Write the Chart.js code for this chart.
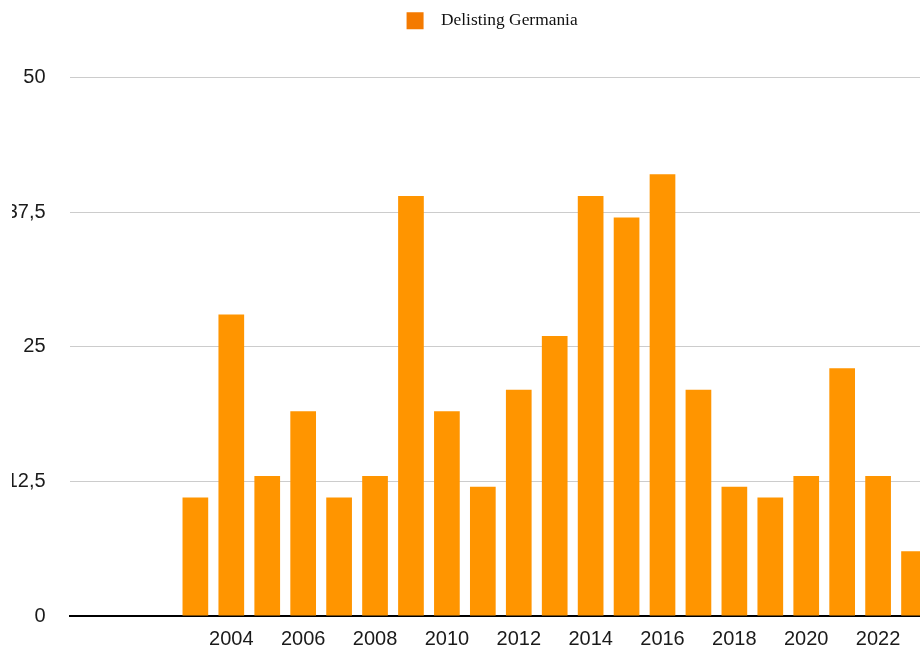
<!DOCTYPE html>
<html>
<head>
	<meta charset="utf-8">
	<title>Delisting Germania</title>
	<script src="https://cdn.jsdelivr.net/npm/chart.js@4.4.1/dist/chart.umd.min.js"></script>
	<style>
		html, body {
			margin: 0;
			padding: 0;
			overflow: hidden;
			background: #fff;
		}
		#myChart {
			display: block;
		}
	</style>
</head>
<body>
<canvas id="myChart" width="932" height="653"></canvas>
<script>
	// anni (2000-2002 vuoti nel grafico originale)
	const anni = ["2000", "2001", "2002", "2003", "2004", "2005", "2006", "2007", "2008", "2009", "2010", "2011",
		"2012", "2013", "2014", "2015", "2016", "2017", "2018", "2019", "2020", "2021", "2022", "2023"]
	const delisting = [null, null, null, 11, 28, 13, 19, 11, 13, 39, 19, 12,
		21, 26, 39, 37, 41, 21, 12, 11, 13, 23, 13, 6]
	const yTicks = [0, 12.5, 25, 37.5, 50]

	// spazio extra tra legenda e grafico
	const legendGap = {
		id: 'legendGap',
		beforeInit(chart) {
			const originalFit = chart.legend.fit
			chart.legend.fit = function fit() {
				originalFit.bind(chart.legend)()
				this.height += 38
			}
		}
	}

	Chart.defaults.font.family = "'Liberation Sans', Arial, Helvetica, sans-serif"
	Chart.defaults.color = "#1a1a1a"

	let ctx = document.getElementById('myChart').getContext('2d')
	let myChart = new Chart(ctx, {
		type: 'bar',
		data: {
			labels: anni,
			datasets: [{
				label: 'Delisting Germania',
				data: delisting,
				backgroundColor: '#ff9500',
				borderWidth: 0,
				barPercentage: 0.715,
				categoryPercentage: 1
			}]
		},
		options: {
			responsive: false,
			animation: false,
			layout: {
				padding: {left: 12, right: 0, top: 0, bottom: 0}
			},
			plugins: {
				tooltip: {enabled: false},
				legend: {
					display: true,
					position: 'top',
					fullSize: false,
					labels: {
						boxWidth: 17,
						boxHeight: 17,
						padding: 12,
						color: '#111',
						font: {family: "'Liberation Serif', 'Times New Roman', serif", size: 17.4},
						generateLabels(chart) {
							const items = Chart.defaults.plugins.legend.labels.generateLabels(chart)
							items.forEach(item => {
								item.text = '  ' + item.text + '    '
								item.fillStyle = '#f47a00'
								item.strokeStyle = '#f47a00'
								item.lineWidth = 0
							})
							return items
						}
					}
				}
			},
			scales: {
				x: {
					afterFit(scale) {
						scale.height = 37
					},
					grid: {display: false, drawTicks: false},
					border: {display: true, color: '#000', width: 2},
					ticks: {
						autoSkip: false,
						maxRotation: 0,
						padding: 11.5,
						font: {size: 20},
						callback: function (value, index) {
							const anno = parseInt(anni[index])
							return (delisting[index] !== null && anno % 2 === 0) ? anni[index] : ''
						}
					}
				},
				y: {
					min: 0,
					max: 50,
					afterFit(scale) {
						scale.width = 57.6
					},
					afterBuildTicks(scale) {
						scale.ticks = yTicks.map(v => ({value: v}))
					},
					grid: {color: '#cccccc', lineWidth: 1, drawTicks: false},
					border: {display: false},
					ticks: {
						padding: 24,
						font: {size: 20},
						callback: value => String(value).replace('.', ',')
					}
				}
			}
		},
		plugins: [legendGap]
	})
</script>
</body>
</html>
